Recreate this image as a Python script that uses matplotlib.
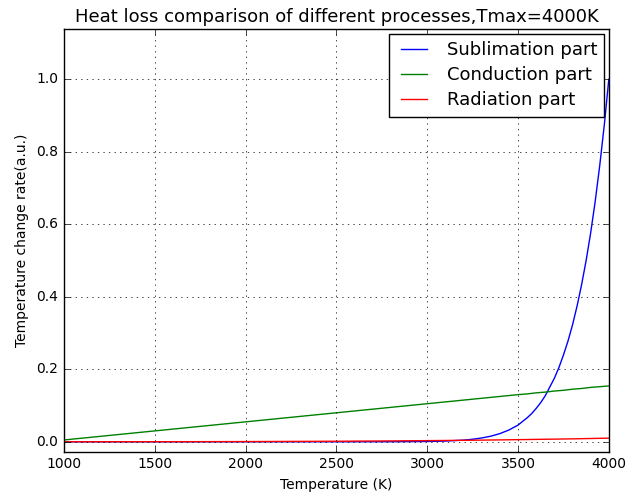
import matplotlib
matplotlib.use("Agg")
import matplotlib.pyplot as plt

temps = [1000, 1500, 2000, 2500, 2800, 3000, 3100, 3200, 3250, 3300, 3350,
         3400, 3450, 3500, 3550, 3575, 3600, 3625, 3650, 3700, 3725, 3750,
         3775, 3800, 3825, 3850, 3875, 3900, 3925, 3950, 3975, 4000]

sublimation = [0.0, 0.0, 0.0, 0.00002, 0.0001, 0.0008, 0.002, 0.0046, 0.0070,
               0.0105, 0.0154, 0.0225, 0.0325, 0.046, 0.066, 0.0776, 0.092,
               0.108, 0.127, 0.175, 0.2045, 0.239, 0.2776, 0.322, 0.374, 0.433,
               0.4998, 0.576, 0.663, 0.762, 0.8735, 1.0]

conduction = [0.005, 0.030, 0.055, 0.080, 0.095, 0.105, 0.110, 0.115, 0.1175,
              0.120, 0.1225, 0.125, 0.1275, 0.130, 0.132, 0.1335, 0.135, 0.136,
              0.137, 0.140, 0.141, 0.142, 0.1435, 0.145, 0.146, 0.147, 0.1485,
              0.150, 0.151, 0.152, 0.153, 0.154]

radiation = [0.00004, 0.0002, 0.0006, 0.0015, 0.0024, 0.0032, 0.0036, 0.0041,
             0.0043, 0.0046, 0.0049, 0.0052, 0.0055, 0.0059, 0.0062, 0.0064,
             0.0066, 0.0068, 0.0070, 0.0073, 0.0075, 0.0077, 0.0079, 0.0081,
             0.0083, 0.0086, 0.0088, 0.0090, 0.0093, 0.0095, 0.0098, 0.0100]


def main():
    plt.style.use("classic")
    fig = plt.figure(figsize=(6.27, 4.95), dpi=100, facecolor="white")
    ax = fig.add_axes([0.102, 0.087, 0.869, 0.854])

    ax.plot(temps, sublimation, color="b", label="Sublimation part")
    ax.plot(temps, conduction, color="g", label="Conduction part")
    ax.plot(temps, radiation, color="r", label="Radiation part")

    ax.set_xlim(1000, 4000)
    ax.set_ylim(-0.028, 1.138)
    ax.set_xticks([1000, 1500, 2000, 2500, 3000, 3500, 4000])
    ax.set_yticks([0.0, 0.2, 0.4, 0.6, 0.8, 1.0])
    ax.tick_params(labelsize=10)
    ax.grid(True)

    ax.set_title("Heat loss comparison of different processes,Tmax=4000K", fontsize=13)
    ax.set_xlabel("Temperature (K)", fontsize=10)
    ax.set_ylabel("Temperature change rate(a.u.)", fontsize=10)
    ax.legend(loc="upper right", fontsize=13, borderaxespad=0.25,
              labelspacing=0.4)

    fig.savefig("out.png", dpi=100, facecolor="white")


main()
